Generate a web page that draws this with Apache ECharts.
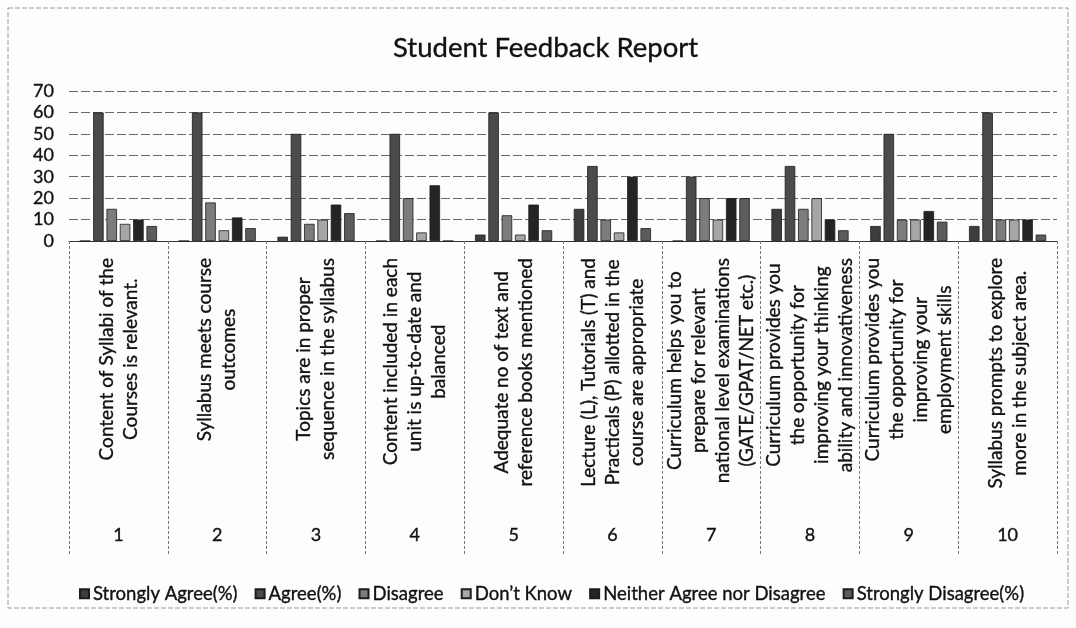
<!DOCTYPE html>
<html>
<head>
<meta charset="utf-8">
<title>Student Feedback Report</title>
<script src="https://cdn.jsdelivr.net/npm/echarts@6/dist/echarts.min.js"></script>
<style>
  html, body { margin: 0; padding: 0; background: #fdfdfd; }
  #chart { width: 1076px; height: 628px; }
</style>
</head>
<body>
<div id="chart"></div>
<script>
// Survey statements (category axis) and their question numbers
const statements = [
  'Content of Syllabi of the\nCourses is relevant.',
  'Syllabus meets course\noutcomes',
  'Topics are in proper\nsequence in the syllabus',
  'Content included in each\nunit is up-to-date and\nbalanced',
  'Adequate no of text and\nreference books mentioned',
  'Lecture (L), Tutorials (T) and\nPracticals (P) allotted in the\ncourse are appropriate',
  'Curriculum helps you to\nprepare for relevant\nnational level examinations\n(GATE/GPAT/NET etc.)',
  'Curriculum provides you\nthe opportunity for\nimproving your thinking\nability and innovativeness',
  'Curriculum provides you\nthe opportunity for\nimproving your\nemployment skills',
  'Syllabus prompts to explore\nmore in the subject area.'
];
const questionNumbers = ['1', '2', '3', '4', '5', '6', '7', '8', '9', '10'];

// Response shares per statement
const stronglyAgree    = [0, 0, 2, 0, 3, 15, 0, 15, 7, 7];
const agree            = [60, 60, 50, 50, 60, 35, 30, 35, 50, 60];
const disagree         = [15, 18, 8, 20, 12, 10, 20, 15, 10, 10];
const dontKnow         = [8, 5, 10, 4, 3, 4, 10, 20, 10, 10];
const neither          = [10, 11, 17, 26, 17, 30, 20, 10, 14, 10];
const stronglyDisagree = [7, 6, 13, 0, 5, 6, 20, 5, 9, 3];

const seriesNames = ['Strongly Agree(%)', 'Agree(%)', 'Disagree', 'Don\u2019t Know',
                     'Neither Agree nor Disagree', 'Strongly Disagree(%)'];
const seriesValues = [stronglyAgree, agree, disagree, dontKnow, neither, stronglyDisagree];

const yTicks = { min: 0, max: 70, interval: 10 };

const FONT = 'Lato, "Open Sans", "Noto Sans", sans-serif';
const INK = '#111';
const palette = ['#3d3d3d', '#4b4b4b', '#7c7c7c', '#a6a6a6', '#242424', '#5c5c5c'];

// slightly heavier strokes for the printed-looking text
const heavy = { textBorderColor: INK, textBorderWidth: 0.35 };

const chart = echarts.init(document.getElementById('chart'), null, { renderer: 'canvas' });

chart.setOption({
  backgroundColor: '#fdfdfd',
  animation: false,
  color: palette,
  textStyle: { fontFamily: FONT, color: INK },
  title: {
    text: 'Student Feedback Report',
    left: 388,
    top: 29,
    textStyle: Object.assign({ fontFamily: FONT, fontSize: 27.5, fontWeight: 'normal', color: INK }, heavy)
  },
  legend: {
    left: 74,
    top: 579,
    itemWidth: 9,
    itemHeight: 9,
    itemGap: 17,
    icon: 'rect',
    textStyle: Object.assign({ fontFamily: FONT, fontSize: 18.5, color: INK, padding: [0, 0, 0, -1] }, heavy),
    data: seriesNames
  },
  grid: { left: 69, right: 19, top: 91, bottom: 387, containLabel: false },
  xAxis: [
    {
      type: 'category',
      data: statements,
      boundaryGap: true,
      axisLine: { show: true, lineStyle: { color: '#333', width: 1.2 } },
      axisTick: {
        show: true,
        alignWithLabel: false,
        length: 314,
        lineStyle: { color: '#777', width: 1, type: [3, 2] }
      },
      axisLabel: {
        interval: 0,
        rotate: 90,
        margin: 17,
        fontFamily: FONT,
        fontSize: 19,
        lineHeight: 24,
        color: INK,
        formatter: function (v) {
          return v.split('\n').map(function (s) { return '{c|' + s + '}'; }).join('\n');
        },
        rich: {
          c: Object.assign({ align: 'center', fontFamily: FONT, fontSize: 19, lineHeight: 24, color: INK }, heavy)
        }
      }
    },
    {
      type: 'category',
      data: questionNumbers,
      position: 'bottom',
      offset: 285,
      axisLine: { show: false },
      axisTick: { show: false },
      axisLabel: Object.assign({ interval: 0, margin: 0, fontFamily: FONT, fontSize: 18, color: INK }, heavy)
    }
  ],
  yAxis: {
    type: 'value',
    min: yTicks.min,
    max: yTicks.max,
    interval: yTicks.interval,
    axisLine: { show: false },
    axisTick: { show: false },
    axisLabel: Object.assign({ margin: 15, fontFamily: FONT, fontSize: 18, color: INK }, heavy),
    splitLine: { lineStyle: { color: '#6e6464', width: 1, type: [9, 3] } }
  },
  graphic: [
    {
      type: 'rect',
      shape: { x: 8, y: 8, width: 1060, height: 600 },
      style: { fill: 'none', stroke: '#9a9a9a', lineWidth: 1, lineDash: [5, 2] },
      silent: true,
      z: -1
    }
  ],
  series: seriesNames.map(function (name, i) {
    return {
      name: name,
      type: 'bar',
      xAxisIndex: 0,
      data: seriesValues[i],
      barWidth: 10.5,
      barGap: '27%',
      itemStyle: { color: palette[i], borderColor: '#1c1c1c', borderWidth: 0.8 }
    };
  })
});
</script>
</body>
</html>
